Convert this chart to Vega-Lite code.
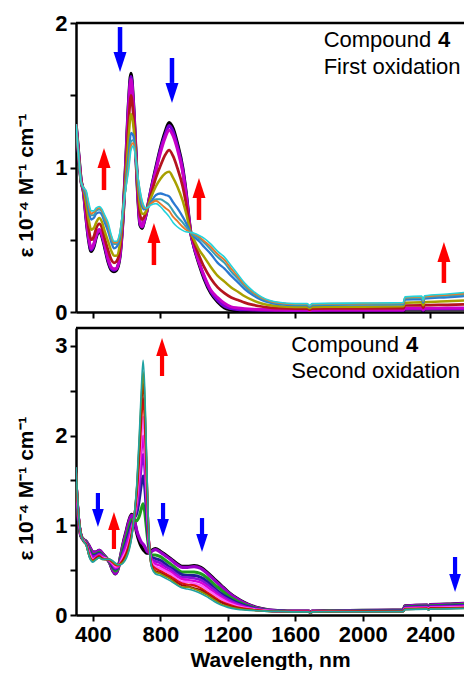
{
"$schema": "https://vega.github.io/schema/vega-lite/v6.json",
"background": "white",
"padding": {"left": 15, "top": 12, "right": 0, "bottom": 0},
"spacing": 3,
"config": {
 "view": {"stroke": null},
 "axis": {"grid": false, "domainColor": "#000", "domainWidth": 2.5, "tickColor": "#000", "tickWidth": 2, "tickSize": 6, "labelFont": "Liberation Sans", "labelFontSize": 22, "labelFontWeight": "bold", "labelColor": "#000", "labelPadding": 3, "labelOverlap": false, "labelFlush": false, "titleFont": "Liberation Sans", "titleFontSize": 21, "titleFontWeight": "bold", "titleColor": "#000"}
},
"datasets": {
 "top": [
  {"w":300,"a":1.30,"b":1.30,"c":1.30,"d":1.30,"e":1.30,"f":1.30,"g":1.30,"h":1.30,"i":1.30},
  {"w":315,"a":1.10,"b":1.10,"c":1.10,"d":1.10,"e":1.09,"f":1.09,"g":1.09,"h":1.09,"i":1.09},
  {"w":330,"a":0.91,"b":0.91,"c":0.91,"d":0.91,"e":0.90,"f":0.90,"g":0.90,"h":0.90,"i":0.90},
  {"w":345,"a":0.83,"b":0.83,"c":0.83,"d":0.84,"e":0.85,"f":0.85,"g":0.86,"h":0.86,"i":0.86},
  {"w":360,"a":0.65,"b":0.66,"c":0.66,"d":0.71,"e":0.75,"f":0.80,"g":0.82,"h":0.83,"i":0.84},
  {"w":375,"a":0.50,"b":0.51,"c":0.52,"d":0.58,"e":0.64,"f":0.70,"g":0.73,"h":0.74,"i":0.76},
  {"w":390,"a":0.42,"b":0.43,"c":0.44,"d":0.50,"e":0.57,"f":0.64,"g":0.67,"h":0.68,"i":0.70},
  {"w":405,"a":0.45,"b":0.46,"c":0.47,"d":0.52,"e":0.58,"f":0.65,"g":0.67,"h":0.69,"i":0.70},
  {"w":420,"a":0.52,"b":0.53,"c":0.53,"d":0.58,"e":0.62,"f":0.68,"g":0.70,"h":0.71,"i":0.72},
  {"w":438,"a":0.56,"b":0.57,"c":0.57,"d":0.61,"e":0.65,"f":0.69,"g":0.71,"h":0.72,"i":0.73},
  {"w":455,"a":0.52,"b":0.53,"c":0.53,"d":0.58,"e":0.62,"f":0.67,"g":0.69,"h":0.70,"i":0.71},
  {"w":470,"a":0.45,"b":0.46,"c":0.47,"d":0.51,"e":0.56,"f":0.62,"g":0.64,"h":0.66,"i":0.67},
  {"w":490,"a":0.35,"b":0.36,"c":0.37,"d":0.43,"e":0.49,"f":0.56,"g":0.59,"h":0.60,"i":0.62},
  {"w":510,"a":0.29,"b":0.30,"c":0.31,"d":0.36,"e":0.42,"f":0.48,"g":0.50,"h":0.52,"i":0.53},
  {"w":525,"a":0.28,"b":0.29,"c":0.30,"d":0.34,"e":0.39,"f":0.44,"g":0.47,"h":0.48,"i":0.49},
  {"w":540,"a":0.29,"b":0.30,"c":0.30,"d":0.35,"e":0.39,"f":0.45,"g":0.47,"h":0.48,"i":0.49},
  {"w":560,"a":0.38,"b":0.39,"c":0.39,"d":0.43,"e":0.47,"f":0.51,"g":0.53,"h":0.54,"i":0.55},
  {"w":580,"a":0.68,"b":0.68,"c":0.68,"d":0.69,"e":0.70,"f":0.71,"g":0.72,"h":0.72,"i":0.72},
  {"w":596,"a":1.05,"b":1.04,"c":1.04,"d":1.00,"e":0.95,"f":0.90,"g":0.88,"h":0.87,"i":0.86},
  {"w":612,"a":1.45,"b":1.44,"c":1.42,"d":1.31,"e":1.21,"f":1.08,"g":1.04,"h":1.01,"i":0.98},
  {"w":626,"a":1.65,"b":1.63,"c":1.61,"d":1.50,"e":1.37,"f":1.24,"g":1.18,"h":1.15,"i":1.12},
  {"w":640,"a":1.45,"b":1.44,"c":1.43,"d":1.36,"e":1.29,"f":1.22,"g":1.19,"h":1.17,"i":1.15},
  {"w":655,"a":1.10,"b":1.10,"c":1.10,"d":1.09,"e":1.07,"f":1.06,"g":1.06,"h":1.05,"i":1.05},
  {"w":668,"a":0.78,"b":0.79,"c":0.79,"d":0.82,"e":0.86,"f":0.90,"g":0.91,"h":0.92,"i":0.93},
  {"w":680,"a":0.60,"b":0.61,"c":0.62,"d":0.67,"e":0.73,"f":0.79,"g":0.81,"h":0.83,"i":0.84},
  {"w":692,"a":0.58,"b":0.59,"c":0.59,"d":0.64,"e":0.68,"f":0.73,"g":0.75,"h":0.76,"i":0.77},
  {"w":705,"a":0.63,"b":0.63,"c":0.64,"d":0.66,"e":0.68,"f":0.71,"g":0.72,"h":0.72,"i":0.73},
  {"w":720,"a":0.70,"b":0.70,"c":0.70,"d":0.71,"e":0.71,"f":0.72,"g":0.72,"h":0.72,"i":0.72},
  {"w":744,"a":0.84,"b":0.84,"c":0.83,"d":0.81,"e":0.79,"f":0.76,"g":0.75,"h":0.75,"i":0.74},
  {"w":774,"a":1.00,"b":0.99,"c":0.98,"d":0.93,"e":0.87,"f":0.81,"g":0.78,"h":0.77,"i":0.75},
  {"w":800,"a":1.13,"b":1.12,"c":1.10,"d":1.01,"e":0.92,"f":0.82,"g":0.78,"h":0.75,"i":0.73},
  {"w":830,"a":1.25,"b":1.23,"c":1.21,"d":1.09,"e":0.96,"f":0.81,"g":0.76,"h":0.72,"i":0.69},
  {"w":852,"a":1.31,"b":1.29,"c":1.26,"d":1.12,"e":0.97,"f":0.80,"g":0.74,"h":0.70,"i":0.66},
  {"w":875,"a":1.27,"b":1.25,"c":1.22,"d":1.08,"e":0.93,"f":0.76,"g":0.70,"h":0.66,"i":0.62},
  {"w":900,"a":1.17,"b":1.15,"c":1.13,"d":1.00,"e":0.87,"f":0.72,"g":0.66,"h":0.63,"i":0.59},
  {"w":932,"a":1.00,"b":0.99,"c":0.97,"d":0.87,"e":0.77,"f":0.66,"g":0.62,"h":0.59,"i":0.565},
  {"w":951,"a":0.84,"b":0.83,"c":0.82,"d":0.76,"e":0.69,"f":0.62,"g":0.59,"h":0.57,"i":0.555},
  {"w":980,"a":0.55,"b":0.55,"c":0.55,"d":0.55,"e":0.55,"f":0.55,"g":0.55,"h":0.55,"i":0.55},
  {"w":1000,"a":0.45,"b":0.45,"c":0.46,"d":0.48,"e":0.50,"f":0.52,"g":0.53,"h":0.54,"i":0.545},
  {"w":1030,"a":0.33,"b":0.34,"c":0.34,"d":0.39,"e":0.43,"f":0.49,"g":0.51,"h":0.52,"i":0.53},
  {"w":1060,"a":0.23,"b":0.24,"c":0.25,"d":0.31,"e":0.38,"f":0.45,"g":0.48,"h":0.49,"i":0.51},
  {"w":1100,"a":0.13,"b":0.14,"c":0.15,"d":0.23,"e":0.31,"f":0.40,"g":0.43,"h":0.45,"i":0.47},
  {"w":1140,"a":0.07,"b":0.08,"c":0.10,"d":0.17,"e":0.25,"f":0.34,"g":0.38,"h":0.40,"i":0.42},
  {"w":1180,"a":0.03,"b":0.04,"c":0.06,"d":0.13,"e":0.21,"f":0.30,"g":0.34,"h":0.36,"i":0.38},
  {"w":1220,"a":0.015,"b":0.024,"c":0.036,"d":0.10,"e":0.17,"f":0.25,"g":0.28,"h":0.30,"i":0.32},
  {"w":1260,"a":0.01,"b":0.018,"c":0.028,"d":0.083,"e":0.14,"f":0.205,"g":0.23,"h":0.245,"i":0.26},
  {"w":1300,"a":0.01,"b":0.016,"c":0.023,"d":0.065,"e":0.109,"f":0.158,"g":0.177,"h":0.189,"i":0.20},
  {"w":1350,"a":0.01,"b":0.014,"c":0.019,"d":0.049,"e":0.08,"f":0.115,"g":0.129,"h":0.137,"i":0.145},
  {"w":1400,"a":0.01,"b":0.013,"c":0.017,"d":0.038,"e":0.059,"f":0.084,"g":0.094,"h":0.099,"i":0.105},
  {"w":1450,"a":0.01,"b":0.012,"c":0.015,"d":0.03,"e":0.046,"f":0.065,"g":0.072,"h":0.076,"i":0.08},
  {"w":1500,"a":0.01,"b":0.012,"c":0.014,"d":0.027,"e":0.04,"f":0.054,"g":0.06,"h":0.064,"i":0.067},
  {"w":1600,"a":0.01,"b":0.011,"c":0.013,"d":0.024,"e":0.035,"f":0.047,"g":0.052,"h":0.055,"i":0.058},
  {"w":1670,"a":0.01,"b":0.011,"c":0.013,"d":0.024,"e":0.035,"f":0.047,"g":0.052,"h":0.055,"i":0.058},
  {"w":1685,"a":0.005,"b":0.006,"c":0.008,"d":0.017,"e":0.026,"f":0.036,"g":0.04,"h":0.043,"i":0.045},
  {"w":1700,"a":0.01,"b":0.011,"c":0.013,"d":0.024,"e":0.035,"f":0.047,"g":0.052,"h":0.055,"i":0.058},
  {"w":1800,"a":0.01,"b":0.012,"c":0.014,"d":0.025,"e":0.036,"f":0.049,"g":0.054,"h":0.057,"i":0.06},
  {"w":2000,"a":0.01,"b":0.012,"c":0.014,"d":0.025,"e":0.037,"f":0.051,"g":0.056,"h":0.059,"i":0.062},
  {"w":2240,"a":0.01,"b":0.012,"c":0.014,"d":0.026,"e":0.039,"f":0.053,"g":0.058,"h":0.062,"i":0.065},
  {"w":2250,"a":0.02,"b":0.023,"c":0.026,"d":0.045,"e":0.064,"f":0.086,"g":0.095,"h":0.10,"i":0.105},
  {"w":2350,"a":0.02,"b":0.023,"c":0.026,"d":0.046,"e":0.067,"f":0.09,"g":0.099,"h":0.105,"i":0.11},
  {"w":2358,"a":0.01,"b":0.012,"c":0.015,"d":0.03,"e":0.046,"f":0.065,"g":0.072,"h":0.076,"i":0.08},
  {"w":2366,"a":0.02,"b":0.023,"c":0.026,"d":0.047,"e":0.068,"f":0.092,"g":0.101,"h":0.106,"i":0.112},
  {"w":2500,"a":0.02,"b":0.023,"c":0.027,"d":0.05,"e":0.075,"f":0.102,"g":0.112,"h":0.119,"i":0.125},
  {"w":2600,"a":0.02,"b":0.023,"c":0.028,"d":0.053,"e":0.08,"f":0.11,"g":0.121,"h":0.128,"i":0.135}
 ],
 "bot": [
  {"w":300,"a":1.40,"b":1.41,"c":1.46,"d":1.50,"e":1.53,"f":1.55,"g":1.58,"h":1.60,"i":1.62,"j":1.64,"k":1.65},
  {"w":315,"a":1.05,"b":1.05,"c":1.07,"d":1.09,"e":1.10,"f":1.11,"g":1.12,"h":1.13,"i":1.14,"j":1.14,"k":1.15},
  {"w":330,"a":0.88,"b":0.88,"c":0.88,"d":0.89,"e":0.89,"f":0.89,"g":0.89,"h":0.90,"i":0.90,"j":0.90,"k":0.90},
  {"w":345,"a":0.84,"b":0.84,"c":0.84,"d":0.83,"e":0.83,"f":0.83,"g":0.83,"h":0.82,"i":0.82,"j":0.82,"k":0.82},
  {"w":360,"a":0.82,"b":0.82,"c":0.81,"d":0.80,"e":0.80,"f":0.80,"g":0.79,"h":0.79,"i":0.79,"j":0.78,"k":0.78},
  {"w":380,"a":0.76,"b":0.76,"c":0.73,"d":0.71,"e":0.70,"f":0.69,"g":0.68,"h":0.66,"i":0.65,"j":0.65,"k":0.64},
  {"w":400,"a":0.70,"b":0.70,"c":0.67,"d":0.66,"e":0.65,"f":0.63,"g":0.62,"h":0.61,"i":0.60,"j":0.60,"k":0.59},
  {"w":420,"a":0.70,"b":0.70,"c":0.68,"d":0.67,"e":0.66,"f":0.65,"g":0.64,"h":0.64,"i":0.63,"j":0.62,"k":0.62},
  {"w":438,"a":0.72,"b":0.72,"c":0.70,"d":0.69,"e":0.68,"f":0.67,"g":0.66,"h":0.66,"i":0.65,"j":0.64,"k":0.64},
  {"w":455,"a":0.69,"b":0.69,"c":0.67,"d":0.66,"e":0.66,"f":0.65,"g":0.64,"h":0.63,"i":0.63,"j":0.62,"k":0.62},
  {"w":478,"a":0.64,"b":0.64,"c":0.64,"d":0.63,"e":0.63,"f":0.63,"g":0.63,"h":0.62,"i":0.62,"j":0.62,"k":0.62},
  {"w":500,"a":0.58,"b":0.58,"c":0.59,"d":0.60,"e":0.60,"f":0.60,"g":0.61,"h":0.61,"i":0.62,"j":0.62,"k":0.62},
  {"w":520,"a":0.49,"b":0.49,"c":0.52,"d":0.53,"e":0.55,"f":0.56,"g":0.57,"h":0.58,"i":0.59,"j":0.59,"k":0.60},
  {"w":533,"a":0.46,"b":0.46,"c":0.49,"d":0.51,"e":0.52,"f":0.53,"g":0.54,"h":0.56,"i":0.57,"j":0.57,"k":0.58},
  {"w":550,"a":0.52,"b":0.52,"c":0.53,"d":0.54,"e":0.54,"f":0.54,"g":0.55,"h":0.55,"i":0.56,"j":0.56,"k":0.56},
  {"w":565,"a":0.66,"b":0.66,"c":0.64,"d":0.62,"e":0.61,"f":0.60,"g":0.59,"h":0.58,"i":0.57,"j":0.57,"k":0.56},
  {"w":580,"a":0.80,"b":0.79,"c":0.75,"d":0.71,"e":0.69,"f":0.67,"g":0.65,"h":0.62,"i":0.61,"j":0.59,"k":0.58},
  {"w":600,"a":0.95,"b":0.94,"c":0.88,"d":0.83,"e":0.80,"f":0.76,"g":0.73,"h":0.70,"i":0.68,"j":0.66,"k":0.64},
  {"w":615,"a":1.06,"b":1.05,"c":0.98,"d":0.93,"e":0.89,"f":0.86,"g":0.82,"h":0.79,"i":0.76,"j":0.74,"k":0.72},
  {"w":630,"a":1.12,"b":1.11,"c":1.06,"d":1.02,"e":0.99,"f":0.96,"g":0.94,"h":0.91,"i":0.89,"j":0.88,"k":0.86},
  {"w":645,"a":1.06,"b":1.06,"c":1.07,"d":1.08,"e":1.08,"f":1.08,"g":1.09,"h":1.09,"i":1.10,"j":1.10,"k":1.10},
  {"w":660,"a":0.92,"b":0.94,"c":1.05,"d":1.13,"e":1.19,"f":1.24,"g":1.29,"h":1.34,"i":1.39,"j":1.42,"k":1.45},
  {"w":675,"a":0.82,"b":0.86,"c":1.10,"d":1.28,"e":1.41,"f":1.53,"g":1.65,"h":1.76,"i":1.86,"j":1.93,"k":2.00},
  {"w":688,"a":0.76,"b":0.81,"c":1.19,"d":1.46,"e":1.66,"f":1.83,"g":2.01,"h":2.19,"i":2.34,"j":2.44,"k":2.55},
  {"w":698,"a":0.73,"b":0.79,"c":1.24,"d":1.55,"e":1.79,"f":2.00,"g":2.21,"h":2.42,"i":2.59,"j":2.71,"k":2.84},
  {"w":708,"a":0.71,"b":0.76,"c":1.14,"d":1.41,"e":1.61,"f":1.78,"g":1.96,"h":2.14,"i":2.29,"j":2.39,"k":2.50},
  {"w":718,"a":0.69,"b":0.72,"c":0.96,"d":1.12,"e":1.25,"f":1.36,"g":1.47,"h":1.58,"i":1.67,"j":1.73,"k":1.80},
  {"w":728,"a":0.69,"b":0.70,"c":0.79,"d":0.85,"e":0.90,"f":0.94,"g":0.98,"h":1.02,"i":1.05,"j":1.08,"k":1.10},
  {"w":738,"a":0.70,"b":0.70,"c":0.70,"d":0.69,"e":0.69,"f":0.69,"g":0.69,"h":0.68,"i":0.68,"j":0.68,"k":0.68},
  {"w":750,"a":0.72,"b":0.71,"c":0.67,"d":0.64,"e":0.62,"f":0.60,"g":0.58,"h":0.56,"i":0.54,"j":0.53,"k":0.52},
  {"w":770,"a":0.74,"b":0.73,"c":0.67,"d":0.63,"e":0.60,"f":0.57,"g":0.54,"h":0.52,"i":0.49,"j":0.48,"k":0.46},
  {"w":800,"a":0.71,"b":0.70,"c":0.65,"d":0.61,"e":0.58,"f":0.55,"g":0.52,"h":0.49,"i":0.47,"j":0.46,"k":0.44},
  {"w":830,"a":0.67,"b":0.66,"c":0.61,"d":0.57,"e":0.54,"f":0.51,"g":0.49,"h":0.46,"i":0.44,"j":0.43,"k":0.41},
  {"w":860,"a":0.63,"b":0.62,"c":0.57,"d":0.53,"e":0.51,"f":0.48,"g":0.46,"h":0.43,"i":0.41,"j":0.40,"k":0.38},
  {"w":900,"a":0.57,"b":0.56,"c":0.51,"d":0.48,"e":0.45,"f":0.43,"g":0.40,"h":0.38,"i":0.36,"j":0.34,"k":0.33},
  {"w":930,"a":0.54,"b":0.53,"c":0.48,"d":0.45,"e":0.42,"f":0.40,"g":0.37,"h":0.35,"i":0.33,"j":0.31,"k":0.30},
  {"w":960,"a":0.54,"b":0.53,"c":0.48,"d":0.44,"e":0.42,"f":0.39,"g":0.37,"h":0.34,"i":0.32,"j":0.31,"k":0.29},
  {"w":1000,"a":0.55,"b":0.54,"c":0.48,"d":0.44,"e":0.41,"f":0.38,"g":0.35,"h":0.33,"i":0.30,"j":0.29,"k":0.27},
  {"w":1040,"a":0.53,"b":0.52,"c":0.46,"d":0.42,"e":0.39,"f":0.36,"g":0.33,"h":0.30,"i":0.28,"j":0.26,"k":0.24},
  {"w":1080,"a":0.47,"b":0.46,"c":0.41,"d":0.37,"e":0.34,"f":0.31,"g":0.28,"h":0.25,"i":0.23,"j":0.22,"k":0.20},
  {"w":1120,"a":0.40,"b":0.39,"c":0.34,"d":0.30,"e":0.28,"f":0.25,"g":0.23,"h":0.20,"i":0.18,"j":0.17,"k":0.15},
  {"w":1160,"a":0.33,"b":0.32,"c":0.28,"d":0.24,"e":0.22,"f":0.20,"g":0.18,"h":0.15,"i":0.14,"j":0.12,"k":0.11},
  {"w":1200,"a":0.26,"b":0.255,"c":0.218,"d":0.192,"e":0.173,"f":0.155,"g":0.138,"h":0.12,"i":0.106,"j":0.096,"k":0.085},
  {"w":1250,"a":0.19,"b":0.186,"c":0.16,"d":0.141,"e":0.128,"f":0.115,"g":0.103,"h":0.09,"i":0.08,"j":0.073,"k":0.065},
  {"w":1300,"a":0.135,"b":0.133,"c":0.116,"d":0.104,"e":0.095,"f":0.087,"g":0.079,"h":0.071,"i":0.065,"j":0.06,"k":0.055},
  {"w":1350,"a":0.095,"b":0.094,"c":0.084,"d":0.077,"e":0.073,"f":0.068,"g":0.064,"h":0.059,"i":0.055,"j":0.053,"k":0.05},
  {"w":1400,"a":0.07,"b":0.069,"c":0.064,"d":0.06,"e":0.058,"f":0.055,"g":0.053,"h":0.05,"i":0.048,"j":0.047,"k":0.045},
  {"w":1450,"a":0.055,"b":0.055,"c":0.051,"d":0.049,"e":0.048,"f":0.046,"g":0.045,"h":0.043,"i":0.042,"j":0.041,"k":0.04},
  {"w":1500,"a":0.048,"b":0.048,"c":0.046,"d":0.045,"e":0.044,"f":0.043,"g":0.042,"h":0.042,"i":0.041,"j":0.04,"k":0.04},
  {"w":1600,"a":0.042,"b":0.042,"c":0.04,"d":0.039,"e":0.039,"f":0.038,"g":0.038,"h":0.037,"i":0.036,"j":0.035,"k":0.035},
  {"w":1680,"a":0.042,"b":0.042,"c":0.04,"d":0.039,"e":0.039,"f":0.038,"g":0.038,"h":0.037,"i":0.036,"j":0.035,"k":0.035},
  {"w":1690,"a":0.03,"b":0.03,"c":0.028,"d":0.027,"e":0.026,"f":0.025,"g":0.024,"h":0.024,"i":0.023,"j":0.022,"k":0.022},
  {"w":1700,"a":0.042,"b":0.042,"c":0.04,"d":0.039,"e":0.039,"f":0.038,"g":0.038,"h":0.037,"i":0.036,"j":0.035,"k":0.035},
  {"w":1800,"a":0.045,"b":0.045,"c":0.043,"d":0.041,"e":0.041,"f":0.04,"g":0.039,"h":0.038,"i":0.037,"j":0.037,"k":0.036},
  {"w":2000,"a":0.05,"b":0.05,"c":0.047,"d":0.045,"e":0.044,"f":0.042,"g":0.041,"h":0.04,"i":0.039,"j":0.038,"k":0.037},
  {"w":2240,"a":0.055,"b":0.055,"c":0.051,"d":0.048,"e":0.047,"f":0.045,"g":0.043,"h":0.041,"i":0.04,"j":0.039,"k":0.038},
  {"w":2250,"a":0.10,"b":0.099,"c":0.09,"d":0.084,"e":0.08,"f":0.076,"g":0.072,"h":0.068,"i":0.065,"j":0.062,"k":0.06},
  {"w":2380,"a":0.11,"b":0.109,"c":0.099,"d":0.092,"e":0.088,"f":0.083,"g":0.079,"h":0.074,"i":0.07,"j":0.068,"k":0.065},
  {"w":2390,"a":0.095,"b":0.094,"c":0.085,"d":0.079,"e":0.075,"f":0.071,"g":0.067,"h":0.063,"i":0.06,"j":0.057,"k":0.055},
  {"w":2400,"a":0.115,"b":0.114,"c":0.103,"d":0.096,"e":0.091,"f":0.086,"g":0.081,"h":0.076,"i":0.072,"j":0.069,"k":0.066},
  {"w":2500,"a":0.12,"b":0.118,"c":0.108,"d":0.10,"e":0.094,"f":0.089,"g":0.084,"h":0.078,"i":0.074,"j":0.071,"k":0.068},
  {"w":2600,"a":0.13,"b":0.128,"c":0.116,"d":0.107,"e":0.101,"f":0.095,"g":0.089,"h":0.084,"i":0.079,"j":0.075,"k":0.072}
 ],
 "arrTop": [
  {"w":561,"tail":1.972,"base":1.799,"tip":1.661,"dir":"down"},
  {"w":869,"tail":1.758,"base":1.585,"tip":1.446,"dir":"down"},
  {"w":466,"tail":0.844,"base":0.997,"tip":1.135,"dir":"up"},
  {"w":762,"tail":0.325,"base":0.478,"tip":0.616,"dir":"up"},
  {"w":1029,"tail":0.637,"base":0.789,"tip":0.927,"dir":"up"},
  {"w":2481,"tail":0.201,"base":0.346,"tip":0.484,"dir":"up"}
 ],
 "arrBot": [
  {"w":430,"tail":1.360,"base":1.182,"tip":0.981,"dir":"down"},
  {"w":525,"tail":0.736,"base":0.948,"tip":1.148,"dir":"up"},
  {"w":810,"tail":2.665,"base":2.888,"tip":3.088,"dir":"up"},
  {"w":816,"tail":1.249,"base":1.070,"tip":0.870,"dir":"down"},
  {"w":1047,"tail":1.081,"base":0.903,"tip":0.702,"dir":"down"},
  {"w":2547,"tail":0.647,"base":0.457,"tip":0.256,"dir":"down"}
 ],
 "txtTop": [
  {"w":1768,"y":1.836,"t":"Compound"},
  {"w":1768,"y":1.647,"t":"First oxidation"}
 ],
 "numTop": [{"w":2446,"y":1.836,"t":"4"}],
 "txtBot": [
  {"w":1576,"y":2.936,"t":"Compound"},
  {"w":1576,"y":2.642,"t":"Second oxidation"}
 ],
 "numBot": [{"w":2256,"y":2.936,"t":"4"}]
},
"vconcat": [
 {
  "width": 388, "height": 289,
  "layer": [
   {
    "data": {"name": "top"},
    "transform": [{"fold": ["a","b","c","d","e","f","g","h","i"], "as": ["s","v"]}],
    "mark": {"type": "line", "interpolate": "monotone", "clip": true},
    "encoding": {
     "x": {"field": "w", "type": "quantitative", "scale": {"domain": [300, 2600], "nice": false, "zero": false},
      "axis": {"values": [400,600,800,1000,1200,1400,1600,1800,2000,2200,2400], "labels": false, "title": null}},
     "y": {"field": "v", "type": "quantitative", "scale": {"domain": [0, 2], "nice": false},
      "axis": {"values": [0,0.5,1,1.5,2], "labelExpr": "datum.value % 1 === 0 ? toString(datum.value) : ''", "title": "ε 10⁻⁴ M⁻¹ cm⁻¹", "titlePadding": 18, "titleY": 162}},
     "stroke": {"field": "s", "type": "nominal", "legend": null,
      "scale": {"domain": ["a","b","c","d","e","f","g","h","i"], "range": ["#000000","#7a00d6","#c800c8","#b4141e","#a8a000","#2a78d2","#39a0b4","#e8782a","#22d3dc"]}},
     "strokeWidth": {"field": "s", "type": "nominal", "legend": null,
      "scale": {"domain": ["a","b","c","d","e","f","g","h","i"], "range": [3.4,1.6,1.6,1.6,1.6,1.6,1.6,1.6,4.2]}}
    }
   },
   {
    "data": {"name": "arrTop"},
    "mark": {"type": "rule", "strokeWidth": 4.5},
    "encoding": {
     "x": {"field": "w", "type": "quantitative"},
     "y": {"field": "tail", "type": "quantitative"},
     "y2": {"field": "base"},
     "color": {"field": "dir", "type": "nominal", "legend": null, "scale": {"domain": ["up","down"], "range": ["#ff0000","#0000ff"]}}
    }
   },
   {
    "data": {"name": "arrTop"},
    "mark": {"type": "point", "filled": true, "opacity": 1, "size": 400, "strokeWidth": 0},
    "encoding": {
     "x": {"field": "w", "type": "quantitative"},
     "y": {"field": "tip", "type": "quantitative"},
     "color": {"field": "dir", "type": "nominal", "legend": null, "scale": {"domain": ["up","down"], "range": ["#ff0000","#0000ff"]}},
     "shape": {"field": "dir", "type": "nominal", "legend": null, "scale": {"domain": ["up","down"], "range": ["M-0.65,2L0.65,2L0,0Z","M-0.65,-2L0.65,-2L0,0Z"]}}
    }
   },
   {
    "data": {"name": "txtTop"},
    "mark": {"type": "text", "align": "left", "baseline": "alphabetic", "font": "Liberation Sans", "fontSize": 22, "color": "#000"},
    "encoding": {
     "x": {"field": "w", "type": "quantitative"},
     "y": {"field": "y", "type": "quantitative"},
     "text": {"field": "t"}
    }
   },
   {
    "data": {"name": "numTop"},
    "mark": {"type": "text", "align": "left", "baseline": "alphabetic", "font": "Liberation Sans", "fontSize": 22, "fontWeight": "bold", "color": "#000"},
    "encoding": {
     "x": {"field": "w", "type": "quantitative"},
     "y": {"field": "y", "type": "quantitative"},
     "text": {"field": "t"}
    }
   },
   {
    "data": {"values": [{}]},
    "mark": {"type": "rule", "strokeWidth": 2.5, "color": "#000"},
    "encoding": {"y": {"datum": 2}}
   }
  ]
 },
 {
  "width": 388, "height": 287,
  "layer": [
   {
    "data": {"name": "bot"},
    "transform": [{"fold": ["a","b","c","d","e","f","g","h","i","j","k"], "as": ["s","v"]}],
    "mark": {"type": "line", "interpolate": "monotone", "clip": true},
    "encoding": {
     "x": {"field": "w", "type": "quantitative", "scale": {"domain": [300, 2600], "nice": false, "zero": false},
      "axis": {"values": [400,600,800,1000,1200,1400,1600,1800,2000,2200,2400], "labelExpr": "datum.value % 400 === 0 ? toString(datum.value) : ''", "title": "Wavelength, nm", "titlePadding": 4}},
     "y": {"field": "v", "type": "quantitative", "scale": {"domain": [0, 3.2], "nice": false},
      "axis": {"values": [0,0.5,1,1.5,2,2.5,3], "labelExpr": "datum.value % 1 === 0 ? toString(datum.value) : ''", "title": "ε 10⁻⁴ M⁻¹ cm⁻¹", "titlePadding": 18, "titleY": 160}},
     "stroke": {"field": "s", "type": "nominal", "legend": null,
      "scale": {"domain": ["a","b","c","d","e","f","g","h","i","j","k"], "range": ["#000000","#9b00c8","#1e9e1e","#1e1e96","#8a10d8","#d800d8","#ff60ff","#e01010","#9c0a0a","#8c8c00","#1fa2a2"]}},
     "strokeWidth": {"field": "s", "type": "nominal", "legend": null,
      "scale": {"domain": ["a","b","c","d","e","f","g","h","i","j","k"], "range": [3.4,1.6,1.6,1.6,1.6,1.6,1.6,1.6,1.6,1.6,4.8]}}
    }
   },
   {
    "data": {"name": "arrBot"},
    "mark": {"type": "rule", "strokeWidth": 4.2},
    "encoding": {
     "x": {"field": "w", "type": "quantitative"},
     "y": {"field": "tail", "type": "quantitative"},
     "y2": {"field": "base"},
     "color": {"field": "dir", "type": "nominal", "legend": null, "scale": {"domain": ["up","down"], "range": ["#ff0000","#0000ff"]}}
    }
   },
   {
    "data": {"name": "arrBot"},
    "mark": {"type": "point", "filled": true, "opacity": 1, "size": 324, "strokeWidth": 0},
    "encoding": {
     "x": {"field": "w", "type": "quantitative"},
     "y": {"field": "tip", "type": "quantitative"},
     "color": {"field": "dir", "type": "nominal", "legend": null, "scale": {"domain": ["up","down"], "range": ["#ff0000","#0000ff"]}},
     "shape": {"field": "dir", "type": "nominal", "legend": null, "scale": {"domain": ["up","down"], "range": ["M-0.67,2L0.67,2L0,0Z","M-0.67,-2L0.67,-2L0,0Z"]}}
    }
   },
   {
    "data": {"name": "txtBot"},
    "mark": {"type": "text", "align": "left", "baseline": "alphabetic", "font": "Liberation Sans", "fontSize": 22, "color": "#000"},
    "encoding": {
     "x": {"field": "w", "type": "quantitative"},
     "y": {"field": "y", "type": "quantitative"},
     "text": {"field": "t"}
    }
   },
   {
    "data": {"name": "numBot"},
    "mark": {"type": "text", "align": "left", "baseline": "alphabetic", "font": "Liberation Sans", "fontSize": 22, "fontWeight": "bold", "color": "#000"},
    "encoding": {
     "x": {"field": "w", "type": "quantitative"},
     "y": {"field": "y", "type": "quantitative"},
     "text": {"field": "t"}
    }
   },
   {
    "data": {"values": [{}]},
    "mark": {"type": "rule", "strokeWidth": 2.5, "color": "#000"},
    "encoding": {"y": {"datum": 3.2}}
   }
  ]
 }
],
"resolve": {"scale": {"x": "independent", "y": "independent", "stroke": "independent", "strokeWidth": "independent"}}
}
